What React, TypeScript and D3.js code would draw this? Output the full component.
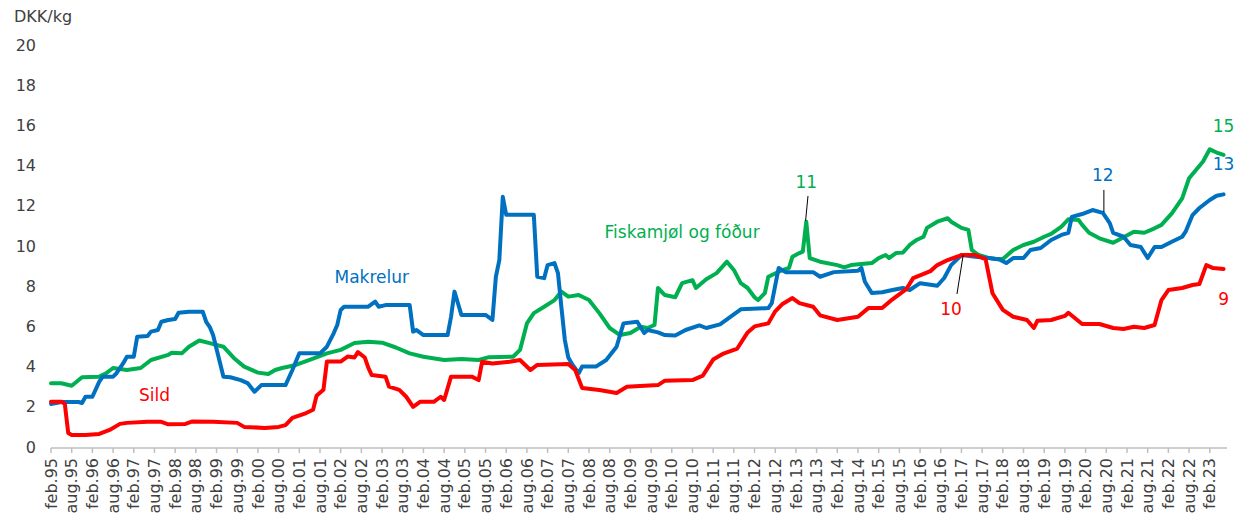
import React, { useEffect, useRef } from 'react';
import * as d3 from 'd3';

// monthly prices, DKK/kg
const sild: [string, number][] = [
  ['1995-02', 2.3], ['1995-05', 2.3], ['1995-06', 2.2], ['1995-07', 0.75], ['1995-08', 0.65],
  ['1995-12', 0.65], ['1996-04', 0.7], ['1996-07', 0.9], ['1996-10', 1.2], ['1996-12', 1.25],
  ['1997-06', 1.3], ['1997-10', 1.3], ['1997-12', 1.18], ['1998-05', 1.2], ['1998-07', 1.32],
  ['1999-01', 1.3], ['1999-08', 1.25], ['1999-10', 1.05], ['2000-04', 1.0], ['2000-08', 1.05],
  ['2000-10', 1.14], ['2000-12', 1.5], ['2001-04', 1.74], ['2001-06', 1.9], ['2001-07', 2.6],
  ['2001-09', 2.9], ['2001-10', 4.3], ['2002-02', 4.3], ['2002-04', 4.55], ['2002-06', 4.5],
  ['2002-07', 4.77], ['2002-09', 4.5], ['2002-10', 4.0], ['2002-11', 3.63], ['2003-03', 3.55],
  ['2003-04', 3.05], ['2003-07', 2.89], ['2003-09', 2.55], ['2003-11', 2.05], ['2004-01', 2.3],
  ['2004-05', 2.3], ['2004-07', 2.55], ['2004-08', 2.39], ['2004-10', 3.55], ['2005-04', 3.55],
  ['2005-06', 3.38], ['2005-07', 4.29], ['2005-10', 4.2], ['2006-03', 4.29], ['2006-06', 4.38],
  ['2006-09', 3.88], ['2006-11', 4.13], ['2007-08', 4.18], ['2007-10', 3.88], ['2007-12', 2.99],
  ['2008-05', 2.89], ['2008-10', 2.74], ['2009-01', 3.05], ['2009-10', 3.13], ['2009-12', 3.35],
  ['2010-08', 3.38], ['2010-11', 3.6], ['2011-02', 4.4], ['2011-05', 4.7], ['2011-09', 4.95],
  ['2011-12', 5.75], ['2012-02', 6.05], ['2012-06', 6.2], ['2012-08', 6.8], ['2012-10', 7.15],
  ['2013-01', 7.46], ['2013-03', 7.21], ['2013-07', 7.03], ['2013-09', 6.6], ['2014-02', 6.37],
  ['2014-08', 6.53], ['2014-11', 6.96], ['2015-03', 6.96], ['2015-06', 7.4], ['2015-10', 7.9],
  ['2015-12', 8.45], ['2016-05', 8.8], ['2016-07', 9.1], ['2016-10', 9.35], ['2017-02', 9.6],
  ['2017-06', 9.6], ['2017-09', 9.4], ['2017-11', 7.7], ['2018-02', 6.87], ['2018-05', 6.53],
  ['2018-09', 6.37], ['2018-11', 5.97], ['2018-12', 6.33], ['2019-04', 6.37], ['2019-08', 6.57],
  ['2019-09', 6.73], ['2020-01', 6.17], ['2020-06', 6.17], ['2020-10', 5.97], ['2021-01', 5.92],
  ['2021-04', 6.03], ['2021-07', 5.97], ['2021-10', 6.12], ['2021-12', 7.36], ['2022-02', 7.86],
  ['2022-06', 7.96], ['2022-09', 8.11], ['2022-11', 8.16], ['2023-01', 9.1], ['2023-03', 8.95],
  ['2023-06', 8.9],
];

const makrelur: [string, number][] = [
  ['1995-02', 2.19], ['1995-05', 2.29], ['1995-10', 2.29], ['1995-11', 2.24], ['1995-12', 2.55],
  ['1996-02', 2.55], ['1996-04', 3.3], ['1996-05', 3.55], ['1996-08', 3.55], ['1996-09', 3.72],
  ['1996-11', 4.23], ['1996-12', 4.54], ['1997-02', 4.54], ['1997-03', 5.54], ['1997-06', 5.57],
  ['1997-07', 5.79], ['1997-09', 5.87], ['1997-10', 6.28], ['1997-12', 6.37], ['1998-02', 6.42],
  ['1998-03', 6.73], ['1998-06', 6.78], ['1998-10', 6.78], ['1998-11', 6.28], ['1998-12', 6.03],
  ['1999-01', 5.62], ['1999-04', 3.55], ['1999-06', 3.52], ['1999-09', 3.38], ['1999-11', 3.23],
  ['2000-01', 2.8], ['2000-03', 3.13], ['2000-10', 3.13], ['2000-12', 3.88], ['2001-02', 4.71],
  ['2001-08', 4.71], ['2001-10', 5.04], ['2001-12', 5.72], ['2002-01', 6.12], ['2002-02', 6.87],
  ['2002-03', 7.03], ['2002-10', 7.03], ['2002-12', 7.28], ['2003-01', 7.03], ['2003-03', 7.11],
  ['2003-10', 7.11], ['2003-11', 5.79], ['2003-12', 5.87], ['2004-02', 5.62], ['2004-09', 5.62],
  ['2004-10', 6.53], ['2004-11', 7.78], ['2004-12', 7.2], ['2005-01', 6.62], ['2005-08', 6.62],
  ['2005-10', 6.37], ['2005-11', 8.52], ['2005-12', 9.35], ['2006-01', 12.5], ['2006-02', 11.6],
  ['2006-10', 11.6], ['2006-11', 8.52], ['2007-01', 8.45], ['2007-02', 9.1], ['2007-04', 9.2],
  ['2007-05', 8.7], ['2007-06', 7.0], ['2007-07', 5.37], ['2007-08', 4.5], ['2007-09', 4.2],
  ['2007-11', 3.72], ['2007-12', 4.05], ['2008-04', 4.05], ['2008-07', 4.38], ['2008-10', 5.04],
  ['2008-12', 6.2], ['2009-04', 6.28], ['2009-06', 5.72], ['2009-07', 5.87], ['2009-10', 5.75],
  ['2009-12', 5.62], ['2010-03', 5.6], ['2010-06', 5.87], ['2010-10', 6.1], ['2010-12', 5.97],
  ['2011-04', 6.15], ['2011-08', 6.65], ['2011-10', 6.9], ['2012-06', 6.96], ['2012-07', 7.21],
  ['2012-09', 8.96], ['2012-11', 8.75], ['2013-07', 8.75], ['2013-09', 8.52], ['2014-01', 8.75],
  ['2014-08', 8.82], ['2014-09', 8.96], ['2014-10', 8.27], ['2014-12', 7.71], ['2015-03', 7.75],
  ['2015-06', 7.86], ['2015-09', 7.96], ['2015-11', 7.86], ['2016-02', 8.2], ['2016-07', 8.07],
  ['2016-09', 8.46], ['2016-11', 9.1], ['2017-02', 9.6], ['2017-06', 9.52], ['2017-10', 9.45],
  ['2018-01', 9.38], ['2018-03', 9.2], ['2018-05', 9.45], ['2018-08', 9.45], ['2018-10', 9.85],
  ['2019-01', 9.95], ['2019-04', 10.35], ['2019-07', 10.6], ['2019-09', 10.7], ['2019-10', 11.5],
  ['2020-01', 11.64], ['2020-04', 11.84], ['2020-07', 11.7], ['2020-09', 11.19], ['2020-10', 10.7],
  ['2021-01', 10.51], ['2021-03', 10.1], ['2021-06', 10.0], ['2021-08', 9.45], ['2021-10', 10.0],
  ['2021-12', 10.0], ['2022-03', 10.26], ['2022-06', 10.51], ['2022-07', 10.76], ['2022-09', 11.59],
  ['2022-11', 11.94], ['2023-02', 12.34], ['2023-04', 12.55], ['2023-06', 12.62],
];

const fiskamjol: [string, number][] = [
  ['1995-02', 3.22], ['1995-05', 3.22], ['1995-08', 3.1], ['1995-11', 3.52], ['1996-04', 3.55],
  ['1996-06', 3.72], ['1996-08', 3.98], ['1996-12', 3.88], ['1997-04', 3.98], ['1997-07', 4.38],
  ['1997-12', 4.63], ['1998-01', 4.74], ['1998-04', 4.72], ['1998-06', 5.04], ['1998-09', 5.35],
  ['1998-12', 5.22], ['1999-04', 5.04], ['1999-07', 4.48], ['1999-10', 4.05], ['2000-02', 3.75],
  ['2000-05', 3.68], ['2000-07', 3.88], ['2000-09', 3.98], ['2001-01', 4.13], ['2001-05', 4.38],
  ['2001-10', 4.71], ['2002-02', 4.88], ['2002-06', 5.22], ['2002-10', 5.29], ['2003-02', 5.24],
  ['2003-06', 5.0], ['2003-10', 4.71], ['2004-02', 4.54], ['2004-08', 4.38], ['2005-01', 4.43],
  ['2005-06', 4.38], ['2005-09', 4.52], ['2006-04', 4.54], ['2006-06', 4.88], ['2006-08', 6.2],
  ['2006-10', 6.71], ['2007-01', 7.03], ['2007-04', 7.36], ['2007-06', 7.78], ['2007-08', 7.53],
  ['2007-11', 7.61], ['2008-02', 7.36], ['2008-05', 6.71], ['2008-08', 5.97], ['2008-11', 5.62],
  ['2009-02', 5.72], ['2009-05', 6.03], ['2009-07', 5.97], ['2009-09', 6.12], ['2009-10', 7.96],
  ['2009-12', 7.61], ['2010-03', 7.5], ['2010-05', 8.2], ['2010-08', 8.35], ['2010-09', 7.96],
  ['2010-12', 8.4], ['2011-03', 8.7], ['2011-06', 9.27], ['2011-08', 8.86], ['2011-10', 8.2],
  ['2011-12', 7.96], ['2012-02', 7.5], ['2012-03', 7.36], ['2012-05', 7.71], ['2012-06', 8.52],
  ['2012-09', 8.77], ['2012-12', 8.96], ['2013-01', 9.52], ['2013-03', 9.7], ['2013-04', 9.77],
  ['2013-05', 11.26], ['2013-06', 9.45], ['2013-09', 9.27], ['2014-02', 9.1], ['2014-04', 8.99],
  ['2014-06', 9.1], ['2014-12', 9.2], ['2015-02', 9.45], ['2015-04', 9.6], ['2015-05', 9.45],
  ['2015-07', 9.7], ['2015-09', 9.72], ['2015-11', 10.1], ['2016-01', 10.35], ['2016-03', 10.51],
  ['2016-04', 10.95], ['2016-07', 11.26], ['2016-10', 11.43], ['2016-11', 11.26], ['2017-02', 10.95],
  ['2017-04', 10.85], ['2017-05', 9.85], ['2017-07', 9.6], ['2017-10', 9.45], ['2017-12', 9.4],
  ['2018-02', 9.4], ['2018-05', 9.85], ['2018-08', 10.1], ['2018-11', 10.26], ['2019-02', 10.51],
  ['2019-04', 10.65], ['2019-07', 11.01], ['2019-09', 11.38], ['2019-12', 11.34], ['2020-01', 11.1],
  ['2020-03', 10.71], ['2020-06', 10.43], ['2020-10', 10.21], ['2021-01', 10.48], ['2021-04', 10.76],
  ['2021-07', 10.71], ['2021-10', 10.93], ['2021-12', 11.1], ['2022-03', 11.67], ['2022-06', 12.42],
  ['2022-08', 13.42], ['2022-12', 14.24], ['2023-02', 14.86], ['2023-04', 14.7], ['2023-06', 14.58],
];

const tickYears = ['95', '96', '97', '98', '99', '00', '01', '02', '03', '04', '05', '06', '07', '08',
  '09', '10', '11', '12', '13', '14', '15', '16', '17', '18', '19', '20', '21', '22', '23'];
const xTickLabels = tickYears.flatMap((y) => ['feb.' + y, 'aug.' + y]).slice(0, -1);
const yTicks = [0, 2, 4, 6, 8, 10, 12, 14, 16, 18, 20];

const series = [
  { name: 'Fiskamjøl og fóður', data: fiskamjol, color: '#00B050' },
  { name: 'Makrelur', data: makrelur, color: '#0070C0' },
  { name: 'Sild', data: sild, color: '#FF0000' },
];

// labels anchored in data space: [month, value]
const labels = [
  { text: 'Sild', at: ['1997-08', 2.6], color: '#FF0000' },
  { text: 'Makrelur', at: ['2002-11', 8.46], color: '#0070C0' },
  { text: 'Fiskamjøl og fóður', at: ['2010-05', 10.7], color: '#00B050' },
  { text: '11', at: ['2013-05', 13.18], color: '#00B050', leader: [13.0, 219.5, 12.54, 218.8, 11.29] },
  { text: '10', at: ['2016-11', 6.87], color: '#FF0000', leader: [0, 262.7, 7.66, 264.5, 9.6] },
  { text: '12', at: ['2020-07', 13.53], color: '#0070C0', leader: [0, 305.3, 12.84, 305.3, 11.74] },
  { text: '13', at: ['2023-06', 14.08], color: '#0070C0' },
  { text: '15', at: ['2023-06', 15.97], color: '#00B050' },
  { text: '9', at: ['2023-06', 7.36], color: '#FF0000' },
];

const monthIndex = (s: string) => {
  const [y, m] = s.split('-').map(Number);
  return (y - 1995) * 12 + (m - 2);
};

const width = 1242;
const height = 517;
const font = "'DejaVu Sans', Verdana, sans-serif";

export default function App() {
  const ref = useRef<SVGSVGElement>(null);

  useEffect(() => {
    const svg = d3.select(ref.current);
    svg.selectAll('*').remove();

    const x = d3.scaleLinear().domain([0, 341]).range([51, 1227]);
    const y = d3.scaleLinear().domain([0, 20]).range([448, 46]);

    // y labels
    svg.append('text')
      .attr('x', 14).attr('y', 17)
      .attr('dominant-baseline', 'middle')
      .style('font-family', font).style('font-size', '16px').style('fill', '#404040')
      .text('DKK/kg');

    svg.selectAll('.ytick')
      .data(yTicks)
      .enter()
      .append('text')
      .attr('x', 36)
      .attr('y', (d) => y(d))
      .attr('text-anchor', 'end')
      .attr('dominant-baseline', 'middle')
      .style('font-family', font).style('font-size', '16px').style('fill', '#404040')
      .text((d) => d);

    // x axis
    svg.append('line')
      .attr('x1', x(0)).attr('x2', x(341))
      .attr('y1', y(0)).attr('y2', y(0))
      .style('stroke', '#BFBFBF').style('stroke-width', 1.5);

    const ticks = svg.selectAll('.xtick')
      .data(xTickLabels)
      .enter()
      .append('g')
      .attr('transform', (_, i) => `translate(${x(i * 6)}, ${y(0)})`);

    ticks.append('line')
      .attr('y1', 0).attr('y2', 5)
      .style('stroke', '#BFBFBF').style('stroke-width', 1.5);

    ticks.append('text')
      .attr('transform', 'translate(0, 10) rotate(-90)')
      .attr('text-anchor', 'end')
      .attr('dy', '0.35em')
      .style('font-family', font).style('font-size', '16px').style('fill', '#404040')
      .text((d) => d);

    // lines
    const line = d3.line<[string, number]>()
      .x((d) => x(monthIndex(d[0])))
      .y((d) => y(d[1]));

    svg.selectAll('.series')
      .data(series)
      .enter()
      .append('path')
      .attr('d', (d) => line(d.data))
      .style('fill', 'none')
      .style('stroke', (d) => d.color)
      .style('stroke-width', 4)
      .style('stroke-linejoin', 'round')
      .style('stroke-linecap', 'round');

    // leader lines
    labels.filter((l) => l.leader).forEach((l) => {
      const [, m1, v1, m2, v2] = l.leader as number[];
      svg.append('line')
        .attr('x1', x(m1)).attr('y1', y(v1))
        .attr('x2', x(m2)).attr('y2', y(v2))
        .style('stroke', '#000').style('stroke-width', 1);
    });

    svg.selectAll('.label')
      .data(labels)
      .enter()
      .append('text')
      .attr('x', (d) => x(monthIndex(d.at[0] as string)))
      .attr('y', (d) => y(d.at[1] as number))
      .attr('text-anchor', 'middle')
      .attr('dominant-baseline', 'middle')
      .style('font-family', font).style('font-size', '17px')
      .style('fill', (d) => d.color)
      .text((d) => d.text);
  }, []);

  return (
    <div style={{ position: 'absolute', left: 0, top: 0 }}>
      <svg ref={ref} width={width} height={height} style={{ display: 'block', background: '#fff' }} />
    </div>
  );
}
